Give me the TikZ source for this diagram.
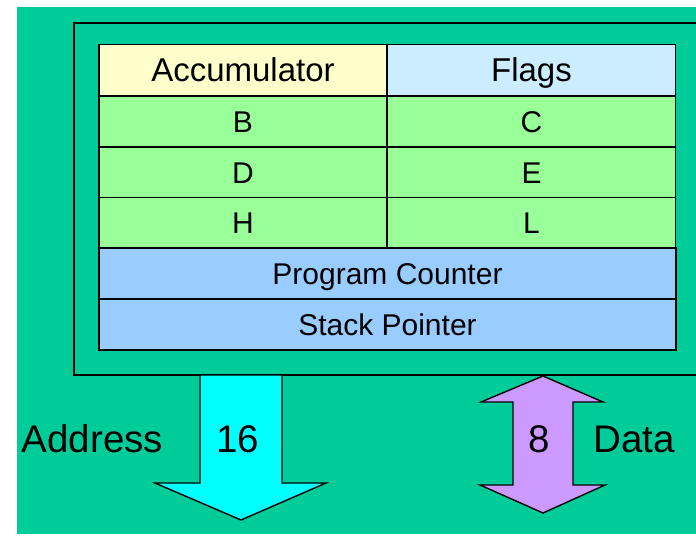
\documentclass[tikz,border=0pt]{standalone}
\usepackage{fontspec}
\setmainfont{Liberation Sans}
\definecolor{bggreen}{HTML}{00CC99}
\definecolor{hdryellow}{HTML}{FFFFCC}
\definecolor{hdrblue}{HTML}{CCECFF}
\definecolor{reggreen}{HTML}{99FF99}
\definecolor{regblue}{HTML}{99CCFF}
\definecolor{addrcyan}{HTML}{00FFFF}
\definecolor{datapurple}{HTML}{CC99FF}
\begin{document}
\begin{tikzpicture}[x=1pt,y=-1pt,
  cell/.style={draw=black,line width=1.6pt,rectangle,inner sep=0pt,
    minimum height=51pt,text height=21.5pt,text depth=0pt,
    font=\fontsize{30}{36}\selectfont},
  hdrcell/.style={cell,font=\fontsize{33}{38}\selectfont,text height=23.6pt},
  halfcell/.style={minimum width=288pt},
  fullcell/.style={minimum width=577pt},
  buslabel/.style={anchor=base,inner sep=0pt,font=\fontsize{38.5}{44}\selectfont},
  busarrow/.style={draw=black,line width=1.4pt,line join=miter}]
\useasboundingbox (0,0) rectangle (696,536);
\clip (0,0) rectangle (696,536);
% background
\fill[bggreen] (17,7) rectangle (700,534);
% outer CPU box (right side runs off the picture)
\coordinate (boxtr) at (705,23);
\coordinate (boxtl) at (74,23);
\coordinate (boxbl) at (74,375);
\coordinate (boxbr) at (705,375);
\draw[line width=1.8pt] (boxtr) -- (boxtl) -- (boxbl) -- (boxbr);
% register table
\node[hdrcell,halfcell,fill=hdryellow] (acc)   at (243,70)    {Accumulator};
\node[hdrcell,halfcell,fill=hdrblue]   (flags) at (531.5,70)  {Flags};
\node[cell,halfcell,fill=reggreen]  (b)     at (243,121.5) {B};
\node[cell,halfcell,fill=reggreen]  (c)     at (531.5,121.5) {C};
\node[cell,halfcell,fill=reggreen]  (d)     at (243,172.5) {D};
\node[cell,halfcell,fill=reggreen]  (e)     at (531.5,172.5) {E};
\node[cell,halfcell,fill=reggreen]  (h)     at (243,223)   {H};
\node[cell,halfcell,fill=reggreen]  (l)     at (531.5,223) {L};
\node[cell,fullcell,fill=regblue]   (pc)    at (387.5,273.5) {Program Counter};
\node[cell,fullcell,fill=regblue]   (sp)    at (387.5,324.5) {Stack Pointer};
% address bus arrow (down)
\draw[busarrow,fill=addrcyan] (200,375) -- (200,483) -- (155,483) -- (241,520)
  -- (326,483) -- (282,483) -- (282,375) -- cycle;
% data bus arrow (double)
\draw[busarrow,fill=datapurple] (543,376) -- (603,402) -- (573,402) -- (573,485)
  -- (605,485) -- (543,513) -- (480,485) -- (513,485) -- (513,402) -- (481,402) -- cycle;
% labels
\node[buslabel] (addr) at (92.5,452) {Address};
\node[buslabel] (w16)  at (238,452) {16};
\node[buslabel] (w8)   at (539,452) {8};
\node[buslabel] (data) at (634,452) {Data};
\end{tikzpicture}
\end{document}
